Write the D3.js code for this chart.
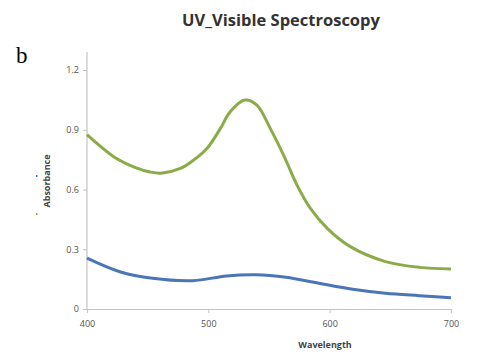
<!DOCTYPE html>
<html>
<head>
<meta charset="utf-8">
<script src="https://cdn.jsdelivr.net/npm/d3@7"></script>
<style>
  body { margin: 0; background: #fff; }
  svg text { font-family: "Open Sans", "Liberation Sans", sans-serif; }
</style>
</head>
<body>
<svg id="chart" width="478" height="352"></svg>
<script>
// wavelengths (nm) and absorbance
const greenWl = [400, 422, 440, 452, 461, 477, 488, 499, 510, 518, 530, 540, 551, 562, 573, 584, 598, 617, 646, 674, 700];
const greenSeries = [0.875, 0.765, 0.71, 0.688, 0.682, 0.706, 0.748, 0.807, 0.907, 0.99, 1.049, 1.024, 0.907, 0.773, 0.623, 0.506, 0.405, 0.313, 0.238, 0.209, 0.201];
const blueWl = [400, 427, 454, 487, 515, 539, 564, 591, 619, 646, 674, 700];
const blueSeries = [0.255, 0.187, 0.154, 0.142, 0.166, 0.172, 0.159, 0.129, 0.099, 0.079, 0.067, 0.057];
const xTicks = [400, 500, 600, 700];
const yTicks = [0, 0.3, 0.6, 0.9, 1.2];

const svg = d3.select('#chart');

const xScale = d3.scaleLinear().domain([400, 700]).range([87, 451]);
const yScale = d3.scaleLinear().domain([0, 1.2]).range([309, 70]);

// title + panel letter
svg.append('text')
  .attr('x', 281).attr('y', 26)
  .attr('text-anchor', 'middle')
  .attr('font-size', 16.5).attr('font-weight', 'bold').attr('fill', '#333')
  .text('UV_Visible Spectroscopy');

svg.append('text')
  .attr('x', 16).attr('y', 63)
  .style('font-family', '"Liberation Serif", serif')
  .attr('font-size', 23).attr('fill', '#000')
  .text('b');

// axes
const xAxis = d3.axisBottom(xScale).tickValues(xTicks).tickSize(4).tickFormat(d3.format('d'));
const yAxis = d3.axisLeft(yScale).tickValues(yTicks).tickSize(4).tickFormat(d => d === 0 ? '0' : d3.format('.1f')(d));

const gx = svg.append('g')
  .attr('transform', `translate(0, ${yScale(0)})`)
  .call(xAxis);
const gy = svg.append('g')
  .attr('transform', `translate(${xScale(400)}, 0)`)
  .call(yAxis);

gy.select('.domain').attr('d', `M0,${yScale(0)}V52`);
[gx, gy].forEach(g => {
  g.select('.domain').attr('stroke', '#c4c4c4').attr('stroke-width', 1.2);
  g.selectAll('.tick line').attr('stroke', '#c4c4c4');
  g.selectAll('.tick text').attr('fill', '#555').attr('font-size', 9)
    .style('font-family', '"Open Sans", sans-serif');
});
gx.selectAll('.tick text').attr('dy', '1.25em');
gy.selectAll('.tick text').attr('x', -8);

// axis titles
svg.append('text')
  .attr('x', 325).attr('y', 348)
  .attr('text-anchor', 'middle')
  .attr('font-size', 9).attr('font-weight', 'bold').attr('fill', '#444')
  .text('Wavelength');

svg.append('text')
  .attr('transform', 'translate(50, 181) rotate(-90)')
  .attr('text-anchor', 'middle')
  .attr('font-size', 9).attr('font-weight', 'bold').attr('fill', '#444')
  .text('Absorbance');

// tiny legend markers
svg.append('rect').attr('x', 36).attr('y', 175).attr('width', 1.5).attr('height', 2).attr('fill', '#4a76b8');
svg.append('rect').attr('x', 36).attr('y', 213).attr('width', 1.5).attr('height', 2).attr('fill', '#8aac48');

// lines
const line = d3.line()
  .x(d => xScale(d[0]))
  .y(d => yScale(d[1]))
  .curve(d3.curveCatmullRom.alpha(0.5));

svg.append('path')
  .datum(greenWl.map((w, i) => [w, greenSeries[i]]))
  .attr('fill', 'none')
  .attr('stroke', '#8aac48')
  .attr('stroke-width', 3)
  .attr('d', line);

svg.append('path')
  .datum(blueWl.map((w, i) => [w, blueSeries[i]]))
  .attr('fill', 'none')
  .attr('stroke', '#4a76b8')
  .attr('stroke-width', 3)
  .attr('d', line);
</script>
</body>
</html>
